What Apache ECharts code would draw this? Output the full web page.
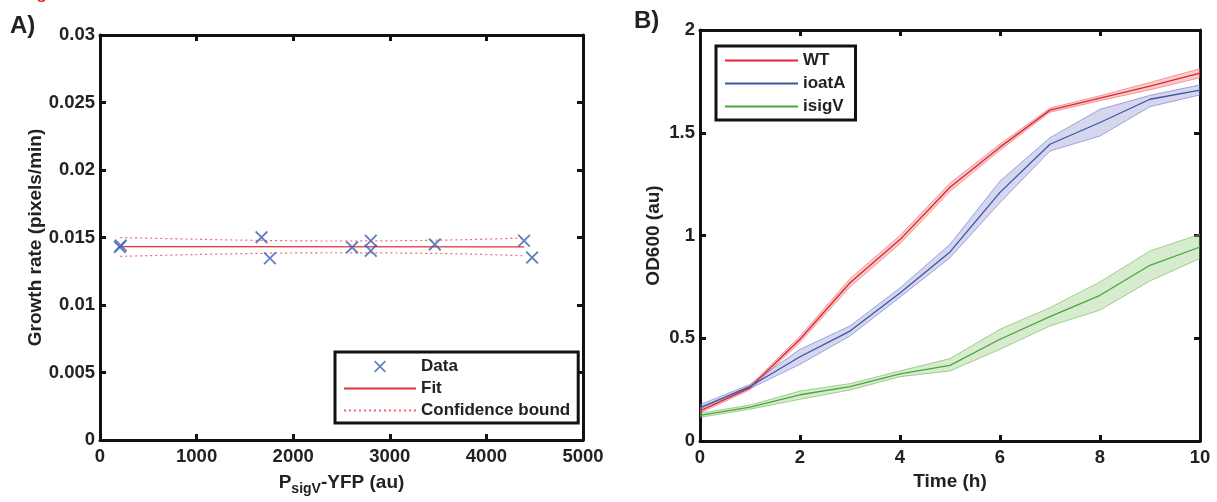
<!DOCTYPE html>
<html>
<head>
<meta charset="utf-8">
<script src="https://cdn.jsdelivr.net/npm/echarts@6/dist/echarts.min.js"></script>
<style>
html,body{margin:0;padding:0;background:#fff;}
#chart{width:1217px;height:502px;}
</style>
</head>
<body>
<div id="chart"></div>
<script>
// ---------- Panel A data ----------
var dataX = [205, 215, 1672, 1759, 2610, 2803, 2803, 3466, 4390, 4473];
var dataY = [0.0143, 0.0144, 0.01501, 0.01346, 0.01427, 0.01476, 0.01402, 0.01449, 0.01476, 0.01351];
var fitX = [210, 4390];
var fitY = [0.01432, 0.01431];
var boundX = [210, 1000, 1700, 2400, 3100, 3800, 4390];
var boundUpper = [0.01500, 0.01487, 0.01478, 0.01474, 0.01476, 0.01484, 0.01496];
var boundLower = [0.01360, 0.01374, 0.01383, 0.01387, 0.01385, 0.01378, 0.01365];

// ---------- Panel B data ----------
var time = [0, 1, 2, 3, 4, 5, 6, 7, 8, 9, 10];
var wtMean = [0.146, 0.26, 0.495, 0.77, 0.98, 1.235, 1.43, 1.61, 1.668, 1.727, 1.79];
var wtLow  = [0.136, 0.25, 0.48, 0.75, 0.96, 1.215, 1.415, 1.60, 1.656, 1.709, 1.768];
var wtHigh = [0.156, 0.27, 0.51, 0.79, 1.00, 1.255, 1.445, 1.62, 1.680, 1.745, 1.812];
var oaMean = [0.162, 0.265, 0.41, 0.535, 0.72, 0.92, 1.21, 1.444, 1.55, 1.663, 1.707];
var oaLow  = [0.147, 0.255, 0.373, 0.511, 0.70, 0.892, 1.16, 1.411, 1.484, 1.627, 1.684];
var oaHigh = [0.177, 0.275, 0.446, 0.56, 0.745, 0.957, 1.265, 1.476, 1.614, 1.682, 1.733];
var svMean = [0.125, 0.165, 0.225, 0.265, 0.327, 0.368, 0.495, 0.605, 0.709, 0.855, 0.944];
var svLow  = [0.115, 0.155, 0.203, 0.248, 0.313, 0.341, 0.446, 0.56, 0.637, 0.779, 0.888];
var svHigh = [0.135, 0.175, 0.243, 0.279, 0.341, 0.401, 0.544, 0.649, 0.774, 0.925, 1.006];

var FONT = '"Liberation Sans", Arial, Helvetica, sans-serif';
var TXT = '#222';
var TICK_FS = 18.5;

function pairs(xs, ys) { return xs.map(function (x, i) { return [x, ys[i]]; }); }
function plain(v) { return String(v); }

var xPath = 'path://M0,1L1,0L5,4L9,0L10,1L6,5L10,9L9,10L5,6L1,10L0,9L4,5Z';

function baseAxis(extra) {
  var o = {
    axisLine: { show: true, onZero: false, lineStyle: { color: '#111', width: 3 } },
    axisTick: { show: true, inside: true, length: 6, lineStyle: { color: '#111', width: 3 } },
    splitLine: { show: false },
    axisLabel: { color: TXT, fontFamily: FONT, fontWeight: 'bold', fontSize: TICK_FS, formatter: plain }
  };
  for (var k in extra) o[k] = extra[k];
  return o;
}

var series = [];
// Panel A
series.push({
  name: 'Data', type: 'scatter', xAxisIndex: 0, yAxisIndex: 0,
  symbol: xPath, symbolSize: 13, symbolKeepAspect: true,
  itemStyle: { color: '#3d5fae' },
  data: pairs(dataX, dataY), z: 5
});
series.push({
  name: 'Fit', type: 'line', xAxisIndex: 0, yAxisIndex: 0, symbol: 'none',
  lineStyle: { color: '#e0303a', width: 1.3 }, itemStyle: { color: '#e0303a' },
  data: pairs(fitX, fitY), z: 3
});
series.push({
  name: 'Confidence bound', type: 'line', xAxisIndex: 0, yAxisIndex: 0, symbol: 'none', smooth: 0.3,
  lineStyle: { color: '#ee6a6a', width: 1.2, type: [2, 3] }, itemStyle: { color: '#ee6a6a' },
  data: pairs(boundX, boundUpper), z: 3
});
series.push({
  name: 'Confidence bound', type: 'line', xAxisIndex: 0, yAxisIndex: 0, symbol: 'none', smooth: 0.3,
  lineStyle: { color: '#ee6a6a', width: 1.2, type: [2, 3] }, itemStyle: { color: '#ee6a6a' },
  data: pairs(boundX, boundLower), z: 3
});

// Panel B : shaded band (custom polygon through the axes' scales) + mean line
function bandSeries(name, lo, hi, mean, lineColor, edgeColor, fillColor) {
  series.push({
    name: name + ' band', type: 'custom', xAxisIndex: 2, yAxisIndex: 2, z: 2,
    data: time.map(function (t, i) { return [t, lo[i], hi[i]]; }),
    encode: { x: 0, y: [1, 2] },
    renderItem: function (params, api) {
      if (params.dataIndex !== 0) return null;
      var upper = time.map(function (t, i) { return api.coord([t, hi[i]]); });
      var lower = time.map(function (t, i) { return api.coord([t, lo[i]]); });
      var poly = upper.concat(lower.slice().reverse());
      return {
        type: 'group',
        children: [
          { type: 'polygon', shape: { points: poly }, style: { fill: fillColor, stroke: null } },
          { type: 'polyline', shape: { points: upper }, style: { fill: null, stroke: edgeColor, lineWidth: 1 } },
          { type: 'polyline', shape: { points: lower }, style: { fill: null, stroke: edgeColor, lineWidth: 1 } }
        ]
      };
    },
    silent: true
  });
  series.push({
    name: name, type: 'line', xAxisIndex: 2, yAxisIndex: 2, symbol: 'none',
    lineStyle: { color: lineColor, width: 1.3 }, itemStyle: { color: lineColor },
    data: pairs(time, mean), z: 4
  });
}
bandSeries('WT', wtLow, wtHigh, wtMean, '#dd2630', 'rgba(235,90,95,0.55)', 'rgba(243,140,140,0.45)');
bandSeries('ioatA', oaLow, oaHigh, oaMean, '#3a56a6', 'rgba(95,105,195,0.55)', 'rgba(130,130,205,0.33)');
bandSeries('isigV', svLow, svHigh, svMean, '#4aa53c', 'rgba(105,180,85,0.6)', 'rgba(140,200,115,0.35)');

var legendText = { color: TXT, fontFamily: FONT, fontWeight: 'bold', fontSize: 17 };
function lineItem(n) { return { name: n, itemStyle: { opacity: 0 } }; }

var option = {
  animation: false,
  backgroundColor: '#fff',
  grid: [
    { left: 100, top: 35, width: 483, height: 405 },
    { left: 700, top: 30, width: 500, height: 411 }
  ],
  xAxis: [
    baseAxis({ type: 'value', gridIndex: 0, min: 0, max: 5000, interval: 1000,
      axisLabel: { color: TXT, fontFamily: FONT, fontWeight: 'bold', fontSize: TICK_FS, margin: 7, formatter: plain },
      name: '{a|P}{s|sigV}{a|-YFP (au)}', nameLocation: 'middle', nameGap: 30,
      nameTextStyle: { rich: {
        a: { fontFamily: FONT, fontWeight: 'bold', fontSize: 19, color: TXT },
        s: { fontFamily: FONT, fontWeight: 'bold', fontSize: 14, color: TXT, verticalAlign: 'bottom', padding: [12, 0, 0, 0] }
      } } }),
    baseAxis({ type: 'value', gridIndex: 0, min: 0, max: 5000, interval: 1000, position: 'top',
      axisLabel: { show: false } }),
    baseAxis({ type: 'value', gridIndex: 1, min: 0, max: 10, interval: 2,
      axisLabel: { color: TXT, fontFamily: FONT, fontWeight: 'bold', fontSize: TICK_FS, margin: 7, formatter: plain },
      name: 'Time (h)', nameLocation: 'middle', nameGap: 30,
      nameTextStyle: { fontFamily: FONT, fontWeight: 'bold', fontSize: 19, color: TXT } }),
    baseAxis({ type: 'value', gridIndex: 1, min: 0, max: 10, interval: 2, position: 'top',
      axisLabel: { show: false } })
  ],
  yAxis: [
    baseAxis({ type: 'value', gridIndex: 0, min: 0, max: 0.03, interval: 0.005,
      axisLabel: { color: TXT, fontFamily: FONT, fontWeight: 'bold', fontSize: TICK_FS, margin: 5, formatter: plain },
      name: 'Growth rate (pixels/min)', nameLocation: 'middle', nameGap: 52,
      nameTextStyle: { fontFamily: FONT, fontWeight: 'bold', fontSize: 19, color: TXT } }),
    baseAxis({ type: 'value', gridIndex: 0, min: 0, max: 0.03, interval: 0.005, position: 'right',
      axisLabel: { show: false } }),
    baseAxis({ type: 'value', gridIndex: 1, min: 0, max: 2, interval: 0.5,
      axisLabel: { color: TXT, fontFamily: FONT, fontWeight: 'bold', fontSize: TICK_FS, margin: 5, formatter: plain },
      name: 'OD600 (au)', nameLocation: 'middle', nameGap: 37,
      nameTextStyle: { fontFamily: FONT, fontWeight: 'bold', fontSize: 19, color: TXT } }),
    baseAxis({ type: 'value', gridIndex: 1, min: 0, max: 2, interval: 0.5, position: 'right',
      axisLabel: { show: false } })
  ],
  legend: [
    {
      data: ['Data', lineItem('Fit'), lineItem('Confidence bound')],
      left: 335, top: 352, orient: 'vertical',
      itemWidth: 72, itemHeight: 12, itemGap: 5,
      padding: [6, 8, 4, 8],
      borderColor: '#111', borderWidth: 3, backgroundColor: '#fff',
      textStyle: legendText, selectedMode: false
    },
    {
      data: [lineItem('WT'), lineItem('ioatA'), lineItem('isigV')],
      left: 716, top: 46, orient: 'vertical',
      itemWidth: 73, itemHeight: 14, itemGap: 6,
      padding: [6, 10, 5, 8],
      borderColor: '#111', borderWidth: 3, backgroundColor: '#fff',
      textStyle: legendText, selectedMode: false
    }
  ],
  graphic: [
    { type: 'text', left: 10, top: 14, style: { text: 'A)', fontFamily: FONT, fontWeight: 'bold', fontSize: 24, fill: TXT } },
    { type: 'text', left: 634, top: 9, style: { text: 'B)', fontFamily: FONT, fontWeight: 'bold', fontSize: 24, fill: TXT } },
    { type: 'text', left: 36, top: -18, style: { text: 'g', fontFamily: FONT, fontSize: 20, fill: '#e8141c' } }
  ],
  series: series
};

var chart = echarts.init(document.getElementById('chart'), null, { renderer: 'canvas' });
chart.setOption(option);
</script>
</body>
</html>
